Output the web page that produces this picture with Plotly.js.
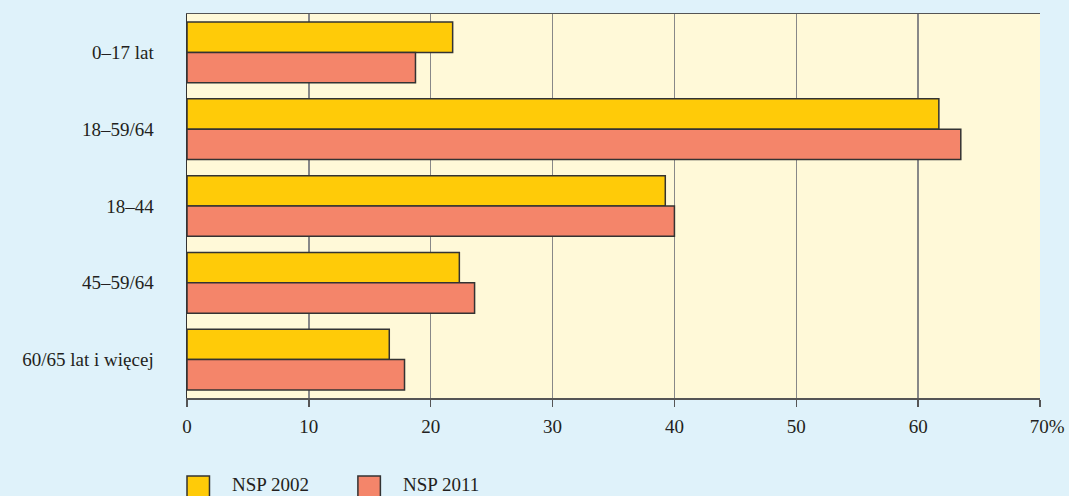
<!DOCTYPE html>
<html>
<head>
<meta charset="utf-8">
<script src="https://cdn.plot.ly/plotly-3.0.1.min.js"></script>
<style>html,body{margin:0;padding:0;background:#dff2fa;}#chart{width:1069px;height:496px;}</style>
</head>
<body>
<div id="chart"></div>
<script>
const categories = ["0–17 lat", "18–59/64", "18–44", "45–59/64", "60/65 lat i więcej"];
const nsp2002 = [21.8, 61.7, 39.25, 22.35, 16.6];
const nsp2011 = [18.75, 63.5, 40.0, 23.6, 17.85];
const seriesNames = ["NSP 2002", "NSP 2011"];
const tickVals = [0, 10, 20, 30, 40, 50, 60, 70];
const tickText = ["0", "10", "20", "30", "40", "50", "60", "&nbsp;&nbsp;&nbsp;70%"];

const colors = ["#ffcb08", "#f4856a"];
const font = {family: "Liberation Serif", size: 19, color: "#231f20"};

const traces = [nsp2002, nsp2011].map((vals, i) => ({
  type: "bar",
  orientation: "h",
  name: seriesNames[i],
  x: vals,
  y: categories,
  marker: {color: colors[i], line: {color: "#333", width: 1.5}},
  hoverinfo: "x+name"
}));

// legend drawn as shapes + annotations
const W = 1069, H = 496, ml = 186.5, mr = 29, mt = 14, mb = 98;
const pw = W - ml - mr, ph = H - mt - mb;
const px = x => (x - ml) / pw;
const py = y => (H - mb - y) / ph;
const legendItems = [
  {box: [186.5, 209], text: 230},
  {box: [357.5, 380], text: 400.5}
];
const shapes = [], annotations = [];
legendItems.forEach((it, i) => {
  shapes.push({type: "rect", xref: "paper", yref: "paper",
    x0: px(it.box[0]), x1: px(it.box[1]), y0: py(476), y1: py(502),
    fillcolor: colors[i], line: {color: "#333", width: 1.5}});
  annotations.push({xref: "paper", yref: "paper", x: px(it.text), y: py(484),
    xanchor: "left", yanchor: "middle", showarrow: false, text: seriesNames[i], font: font});
});

const layout = {
  width: W, height: H,
  margin: {l: ml, r: mr, t: mt, b: mb, pad: 0},
  paper_bgcolor: "#dff2fa",
  plot_bgcolor: "#fff9d8",
  font: font,
  barmode: "group",
  bargap: 0.21,
  bargroupgap: 0,
  showlegend: false,
  xaxis: {
    range: [0, 70], tickvals: tickVals, ticktext: tickText,
    showgrid: true, gridcolor: "#888", gridwidth: 1.5,
    zeroline: false, showline: true, linecolor: "#555", linewidth: 1.5, mirror: true,
    ticks: "outside", ticklen: 7, tickcolor: "#555", tickwidth: 1.5,
    ticklabelstandoff: 4, tickfont: font, fixedrange: true
  },
  yaxis: {
    autorange: "reversed", showgrid: false, zeroline: false,
    showline: true, linecolor: "#333", linewidth: 1.5,
    ticks: "", ticklabelstandoff: 28, tickfont: font, fixedrange: true
  },
  shapes: shapes,
  annotations: annotations
};

Plotly.newPlot("chart", traces, layout, {displayModeBar: false, staticPlot: true});
</script>
</body>
</html>
